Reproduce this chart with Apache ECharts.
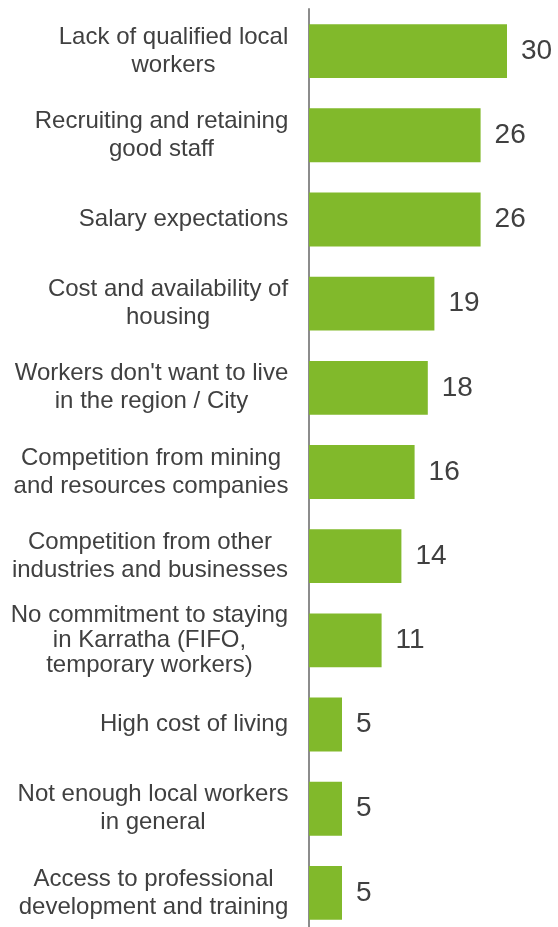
<!DOCTYPE html>
<html>
<head>
<meta charset="utf-8">
<style>
  html, body { margin: 0; padding: 0; background: #ffffff; overflow: hidden; height: 927px; }
  /* the canvas runs a little past the bottom edge, cutting off the last band */
  #chart { width: 558px; height: 935px; }
</style>
<script src="https://cdn.jsdelivr.net/npm/echarts@6/dist/echarts.min.js"></script>
</head>
<body>
<div id="chart"></div>
<script>
// Workforce challenges, ranked by number of responses
const categories = [
  'Lack of qualified local\nworkers',
  'Recruiting and retaining\ngood staff',
  'Salary expectations',
  'Cost and availability of\nhousing',
  "Workers don't want to live\nin the region / City",
  'Competition from mining\nand resources companies',
  'Competition from other\nindustries and businesses',
  'No commitment to staying\nin Karratha (FIFO,\ntemporary workers)',
  'High cost of living',
  'Not enough local workers\nin general',
  'Access to professional\ndevelopment and training'
];
const responses = [30, 26, 26, 19, 18, 16, 14, 11, 5, 5, 5];

const textColor = '#404040';
const fontFamily = '"Liberation Sans", Arial, sans-serif';
const labelSize = 24;

// Each category label is a block anchored at the axis, with its lines centred
// inside the block: measure the widest line to size a rich-text box per label.
const ctx = document.createElement('canvas').getContext('2d');
ctx.font = labelSize + 'px ' + fontFamily;
const rich = {};
categories.forEach(function (c, i) {
  const lines = c.split('\n');
  const w = Math.max.apply(null, lines.map(function (l) { return ctx.measureText(l).width; }));
  rich['c' + i] = {
    width: Math.ceil(w) + 1,
    align: 'center',
    color: textColor,
    fontFamily: fontFamily,
    fontSize: labelSize,
    lineHeight: lines.length > 2 ? 25 : 28
  };
});

const chart = echarts.init(document.getElementById('chart'), null, { renderer: 'canvas' });

chart.setOption({
  animation: false,
  backgroundColor: '#ffffff',
  grid: { left: 309, width: 198, top: 9, bottom: 0, containLabel: false },
  xAxis: {
    type: 'value',
    min: 0,
    max: 30,
    show: false,
    splitLine: { show: false }
  },
  yAxis: {
    type: 'category',
    inverse: true,
    data: categories,
    axisLine: { show: true, lineStyle: { color: '#8c8c8c', width: 2 } },
    axisTick: { show: false },
    axisLabel: {
      margin: 20,
      align: 'right',
      interval: 0,
      formatter: function (value, index) {
        return value.split('\n').map(function (l) {
          return '{c' + index + '|' + l + '}';
        }).join('\n');
      },
      rich: rich
    }
  },
  series: [{
    type: 'bar',
    data: responses,
    barCategoryGap: '36%',
    itemStyle: { color: '#81B92B' },
    label: {
      show: true,
      position: 'right',
      distance: 14,
      color: textColor,
      fontFamily: fontFamily,
      fontSize: 28
    },
    z: 1
  }]
});
</script>
</body>
</html>
